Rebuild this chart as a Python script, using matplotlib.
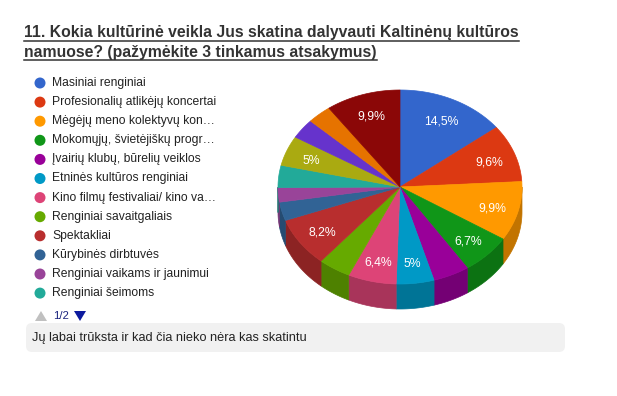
import numpy as np
import matplotlib.pyplot as plt
from matplotlib.patches import Polygon, Circle, FancyBboxPatch
from matplotlib import colors as mcolors

plt.rcParams['font.family'] = ['Liberation Sans', 'DejaVu Sans']

# data
title_lines = ["11. Kokia kultūrinė veikla Jus skatina dalyvauti Kaltinėnų kultūros",
               "namuose? (pažymėkite 3 tinkamus atsakymus)"]
categories = ["Masiniai renginiai", "Profesionalių atlikėjų koncertai",
              "Mėgėjų meno kolektyvų kon…", "Mokomųjų, švietėjiškų progr…",
              "Įvairių klubų, būrelių veiklos", "Etninės kultūros renginiai",
              "Kino filmų festivaliai/ kino va…", "Renginiai savaitgaliais",
              "Spektakliai", "Kūrybinės dirbtuvės", "Renginiai vaikams ir jaunimui",
              "Renginiai šeimoms", "Kita 1", "Kita 2", "Kita 3", "Kita 4"]
shares = [14.5, 9.6, 9.9, 6.7, 4.8, 5.0, 6.4, 4.3, 8.2, 3.1, 2.4, 3.7,
          5.0, 3.3, 3.2, 9.9]
pie_colors = ["#3366cc", "#dc3912", "#ff9900", "#109618", "#990099", "#0099c6",
              "#dd4477", "#66aa00", "#b82e2e", "#316395", "#994499", "#22aa99",
              "#aaaa11", "#6633cc", "#e67300", "#8b0707"]
legend_shown = 12
other_answer = "Jų labai trūksta ir kad čia nieko nėra kas skatintu"

W, H = 617, 396
fig = plt.figure(figsize=(W / 100, H / 100), dpi=100)
ax = fig.add_axes([0, 0, 1, 1])
ax.set_xlim(0, W)
ax.set_ylim(H, 0)
ax.axis('off')

# title with underline
for i, line in enumerate(title_lines):
    y = 33 + i * 19
    t = ax.text(24, y, line, fontsize=11.3, fontweight='bold', color='#333333',
                va='center', ha='left')
    fig.canvas.draw()
    bb = t.get_window_extent().transformed(ax.transData.inverted())
    ax.plot([bb.x0, bb.x1], [y + 8, y + 8], color='#333333', lw=1.1)

# legend
for i in range(legend_shown):
    y = 83 + i * 19.1
    ax.add_patch(Circle((40, y), 5.5, color=pie_colors[i], lw=0))
    ax.text(52, y, categories[i], fontsize=8.7, color='#222222', va='center', ha='left')

# pager
ax.add_patch(Polygon([[35, 321], [47, 321], [41, 311]], closed=True, color='#c0c0c0', lw=0))
ax.text(53, 316, "1/2", fontsize=8.2, color='#1a237e', va='center', ha='left')
ax.add_patch(Polygon([[74, 311], [86, 311], [80, 321]], closed=True, color='#0d1a9e', lw=0))

# other answer box
ax.add_patch(FancyBboxPatch((26, 323), 539, 29, boxstyle="round,pad=0,rounding_size=6",
                            fc='#f1f1f1', ec='none'))
ax.text(32, 337.5, other_answer, fontsize=9.2, color='#222222', va='center', ha='left')

# 3d pie
cx, cy, R, r, depth = 400, 187, 122, 97, 25
vals = np.array(shares)
bounds = np.concatenate([[0], np.cumsum(vals) / vals.sum() * 2 * np.pi])


def pt(t, f=1.0, dy=0):
    return cx + f * R * np.sin(t), cy - f * r * np.cos(t) + dy


def darken(c, k=0.76):
    rgb = np.array(mcolors.to_rgb(c))
    return tuple(rgb * k)


# side walls (front half only)
for i in range(len(vals)):
    a, b = bounds[i], bounds[i + 1]
    a2, b2 = max(a, np.pi / 2), min(b, 3 * np.pi / 2)
    if b2 <= a2:
        continue
    ts = np.linspace(a2, b2, 40)
    xs, ys = pt(ts)
    top = np.column_stack([xs, ys])
    bot = np.column_stack([xs, ys + depth])[::-1]
    ax.add_patch(Polygon(np.vstack([top, bot]), closed=True,
                         fc=darken(pie_colors[i]), ec=darken(pie_colors[i]), lw=0.5))

# top surface
for i in range(len(vals)):
    a, b = bounds[i], bounds[i + 1]
    ts = np.linspace(a, b, 60)
    xs, ys = pt(ts)
    poly = np.vstack([[cx, cy], np.column_stack([xs, ys])])
    ax.add_patch(Polygon(poly, closed=True, fc=pie_colors[i], ec=pie_colors[i], lw=0.5))
    if vals[i] >= 5:
        lx, ly = pt((a + b) / 2, 0.78)
        txt = ("%.1f" % vals[i]).rstrip('0').rstrip('.').replace('.', ',') + "%"
        ax.text(lx, ly + 2, txt, fontsize=8.8, color='white', ha='center', va='center')

fig.savefig("out.png", dpi=100)
